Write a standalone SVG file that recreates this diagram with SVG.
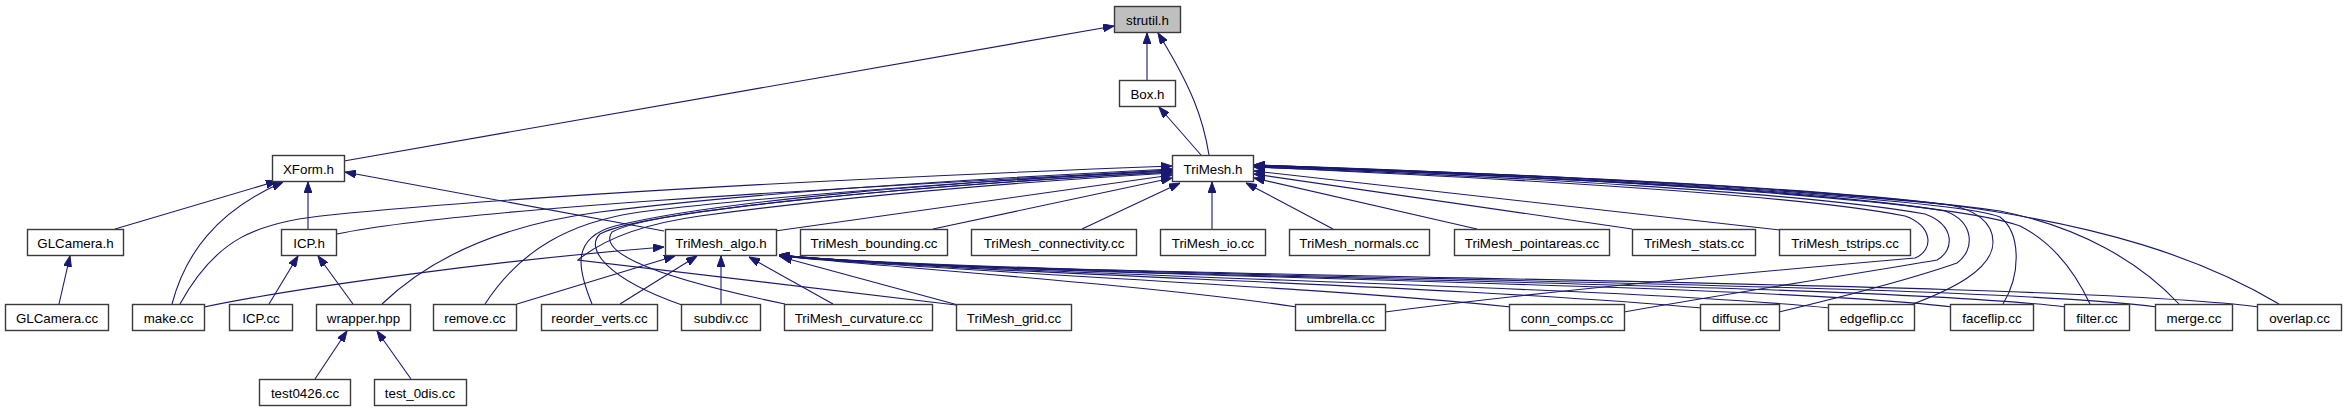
<svg xmlns="http://www.w3.org/2000/svg" width="2346" height="411" viewBox="0 0 2346 411">
<style>
.n rect{fill:#fff;stroke:#3a3a3a;stroke-width:1.4}
.n text{font-family:"Liberation Sans",Arial,Helvetica,sans-serif;font-size:13.33px;fill:#000;text-anchor:middle}
#strutil rect{fill:#bfbfbf}
#edges path{fill:none;stroke:#191970;stroke-width:1.1;marker-end:url(#a)}
</style>
<defs>
<marker id="a" viewBox="0 0 11 8" refX="11" refY="4" markerWidth="11" markerHeight="8" orient="auto" markerUnits="userSpaceOnUse">
<path d="M0,0 L11,4 L0,8 z" fill="#191970" stroke="#191970" stroke-width="1"/>
</marker>
</defs>
<rect width="2346" height="411" fill="#fff"/>
<g id="edges">
<path d="M344,161 L1114,26"/>
<path d="M1147,80 L1147,33"/>
<path d="M1209,155 C1203,118 1192,88 1158,33"/>
<path d="M1201,155 L1159,107"/>
<path d="M115,229 L277,181"/>
<path d="M172,304 C185,255 215,212 283,182"/>
<path d="M308,229 L308,182"/>
<path d="M664,231 L345,172"/>
<path d="M59,304 L70,256"/>
<path d="M269,304 L298,256"/>
<path d="M353,304 L318,256"/>
<path d="M315,379 L347,331"/>
<path d="M411,379 L377,331"/>
<path d="M337,234 C450,210 800,190 1172,170"/>
<path d="M180,304 C215,240 255,222 330,215 C500,198 800,180 1172,166"/>
<path d="M382,304 C430,258 500,225 600,212 C750,193 950,180 1172,169"/>
<path d="M485,304 C520,250 570,222 640,212 C780,195 1000,180 1172,170"/>
<path d="M592,304 C578,270 570,238 615,226 C720,200 950,182 1172,171"/>
<path d="M682,305 C605,278 585,248 600,234 C640,212 900,186 1172,172"/>
<path d="M785,304 C630,272 600,248 612,232 C650,210 900,187 1172,172"/>
<path d="M956,305 L578,260 C600,242 635,225 700,216 C850,196 1000,183 1172,173"/>
<path d="M775,231 L1172,175"/>
<path d="M933,229 L1172,178"/>
<path d="M1082,229 L1180,183"/>
<path d="M1212,229 L1212,182"/>
<path d="M1333,229 L1246,183"/>
<path d="M1477,229 L1254,178"/>
<path d="M1632,229 L1254,174"/>
<path d="M1780,230 L1254,171"/>
<path d="M1385,312 C1550,290 1800,268 1915,258 C1935,250 1932,225 1905,216 C1800,195 1500,178 1254,167"/>
<path d="M1624,312 C1750,290 1880,270 1937,260 C1955,250 1955,225 1925,214 C1800,192 1500,176 1254,167"/>
<path d="M1779,312 C1850,295 1920,276 1957,263 C1975,250 1975,222 1945,211 C1820,190 1500,175 1254,166"/>
<path d="M1913,304 C1950,290 1993,270 1993,242 C1993,222 1975,210 1950,205 C1800,186 1500,173 1254,166"/>
<path d="M2003,304 C2022,272 2020,232 2000,217 C1960,200 1600,178 1254,165"/>
<path d="M2090,304 C2075,272 2052,242 2020,226 C1950,200 1600,178 1254,166"/>
<path d="M2179,304 C2140,262 2080,227 2000,211 C1850,190 1550,175 1254,165"/>
<path d="M2279,304 C2200,257 2100,225 1950,205 C1800,190 1500,172 1254,165"/>
<path d="M204,307 C300,287 500,260 664,247"/>
<path d="M517,304 L675,256"/>
<path d="M620,304 L697,256"/>
<path d="M721,304 L721,256"/>
<path d="M833,304 L749,257"/>
<path d="M958,305 L781,257"/>
<path d="M1297,307 C1150,285 900,268 779,256"/>
<path d="M1511,307 C1300,285 950,272 779,256"/>
<path d="M1702,308 C1450,285 1000,275 779,256"/>
<path d="M1830,308 C1600,285 1000,276 779,255"/>
<path d="M1952,307 C1750,282 1000,277 779,255"/>
<path d="M2066,307 C1850,281 1000,278 779,255"/>
<path d="M2157,307 C1950,280 1000,278 779,255"/>
<path d="M2259,307 C2050,279 1000,278 779,255"/>
</g>
<g id="strutil" class="n"><rect x="1114.5" y="6.5" width="66" height="26"/><text x="1147.5" y="24.5">strutil.h</text></g>
<g id="box" class="n"><rect x="1119.5" y="80.5" width="56" height="26"/><text x="1147.5" y="98.5">Box.h</text></g>
<g id="trimesh_h" class="n"><rect x="1172.5" y="155.5" width="81" height="26"/><text x="1213" y="173.5">TriMesh.h</text></g>
<g id="xform" class="n"><rect x="272.5" y="155.5" width="72" height="26"/><text x="308.5" y="173.5">XForm.h</text></g>
<g id="glcamera_h" class="n"><rect x="27.5" y="229.5" width="96" height="26"/><text x="75.5" y="247.5">GLCamera.h</text></g>
<g id="icp_h" class="n"><rect x="281.5" y="229.5" width="55" height="26"/><text x="309" y="247.5">ICP.h</text></g>
<g id="trimesh_algo" class="n"><rect x="665.5" y="229.5" width="111" height="26"/><text x="721" y="247.5">TriMesh_algo.h</text></g>
<g id="bounding" class="n"><rect x="800.5" y="229.5" width="147" height="26"/><text x="874" y="247.5">TriMesh_bounding.cc</text></g>
<g id="connectivity" class="n"><rect x="971.5" y="229.5" width="165" height="26"/><text x="1054" y="247.5">TriMesh_connectivity.cc</text></g>
<g id="io" class="n"><rect x="1160.5" y="229.5" width="105" height="26"/><text x="1213" y="247.5">TriMesh_io.cc</text></g>
<g id="normals" class="n"><rect x="1289.5" y="229.5" width="140" height="26"/><text x="1359" y="247.5">TriMesh_normals.cc</text></g>
<g id="pointareas" class="n"><rect x="1454.5" y="229.5" width="155" height="26"/><text x="1532" y="247.5">TriMesh_pointareas.cc</text></g>
<g id="stats" class="n"><rect x="1632.5" y="229.5" width="123" height="26"/><text x="1694" y="247.5">TriMesh_stats.cc</text></g>
<g id="tstrips" class="n"><rect x="1779.5" y="229.5" width="131" height="26"/><text x="1845" y="247.5">TriMesh_tstrips.cc</text></g>
<g id="glcamera_cc" class="n"><rect x="5.5" y="304.5" width="103" height="26"/><text x="57" y="322.5">GLCamera.cc</text></g>
<g id="make" class="n"><rect x="132.5" y="304.5" width="72" height="26"/><text x="168.5" y="322.5">make.cc</text></g>
<g id="icp_cc" class="n"><rect x="229.5" y="304.5" width="63" height="26"/><text x="261" y="322.5">ICP.cc</text></g>
<g id="wrapper" class="n"><rect x="316.5" y="304.5" width="94" height="26"/><text x="363.5" y="322.5">wrapper.hpp</text></g>
<g id="remove" class="n"><rect x="433.5" y="304.5" width="83" height="26"/><text x="475" y="322.5">remove.cc</text></g>
<g id="reorder" class="n"><rect x="541.5" y="304.5" width="116" height="26"/><text x="599.5" y="322.5">reorder_verts.cc</text></g>
<g id="subdiv" class="n"><rect x="681.5" y="304.5" width="79" height="26"/><text x="721" y="322.5">subdiv.cc</text></g>
<g id="curvature" class="n"><rect x="784.5" y="304.5" width="148" height="26"/><text x="858.5" y="322.5">TriMesh_curvature.cc</text></g>
<g id="grid" class="n"><rect x="956.5" y="304.5" width="115" height="26"/><text x="1014" y="322.5">TriMesh_grid.cc</text></g>
<g id="umbrella" class="n"><rect x="1295.5" y="304.5" width="90" height="26"/><text x="1340.5" y="322.5">umbrella.cc</text></g>
<g id="conn_comps" class="n"><rect x="1509.5" y="304.5" width="115" height="26"/><text x="1567" y="322.5">conn_comps.cc</text></g>
<g id="diffuse" class="n"><rect x="1700.5" y="304.5" width="79" height="26"/><text x="1740" y="322.5">diffuse.cc</text></g>
<g id="edgeflip" class="n"><rect x="1828.5" y="304.5" width="86" height="26"/><text x="1871.5" y="322.5">edgeflip.cc</text></g>
<g id="faceflip" class="n"><rect x="1950.5" y="304.5" width="83" height="26"/><text x="1992" y="322.5">faceflip.cc</text></g>
<g id="filter" class="n"><rect x="2064.5" y="304.5" width="65" height="26"/><text x="2097" y="322.5">filter.cc</text></g>
<g id="merge" class="n"><rect x="2155.5" y="304.5" width="77" height="26"/><text x="2194" y="322.5">merge.cc</text></g>
<g id="overlap" class="n"><rect x="2257.5" y="304.5" width="84" height="26"/><text x="2299.5" y="322.5">overlap.cc</text></g>
<g id="test0426" class="n"><rect x="259.5" y="379.5" width="91" height="26"/><text x="305" y="397.5">test0426.cc</text></g>
<g id="test_0dis" class="n"><rect x="374.5" y="379.5" width="92" height="26"/><text x="420" y="397.5">test_0dis.cc</text></g>
</svg>
